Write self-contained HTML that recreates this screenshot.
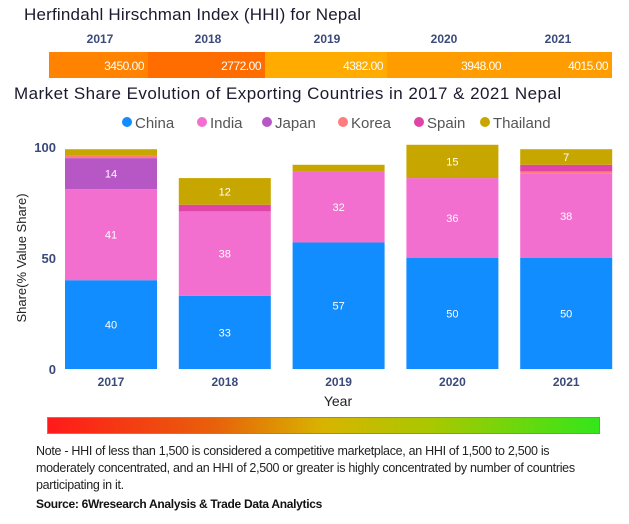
<!DOCTYPE html>
<html><head><meta charset="utf-8"><style>
body{margin:0;width:629px;height:524px;background:#fff;font-family:"Liberation Sans",sans-serif;overflow:hidden;position:relative}
.abs{position:absolute;white-space:nowrap}
</style></head><body>
<div class="abs" style="left:24px;top:5px;font-size:17px;color:#1a1a2e;letter-spacing:0.2px">Herfindahl Hirschman Index (HHI) for Nepal</div>
<svg id="hhi" class="abs" style="left:0;top:0" width="629" height="90"></svg>
<div class="abs" style="left:14px;top:84px;font-size:17px;color:#1a1a2e;letter-spacing:0.45px">Market Share Evolution of Exporting Countries in 2017 &amp; 2021 Nepal</div>
<svg id="chart" class="abs" style="left:0;top:105px" width="629" height="305"></svg>
<div class="abs" style="left:47px;top:417px;width:553px;height:17px;background:linear-gradient(90deg,#ff1a1a 0%,#e8600a 30%,#d8b400 50%,#a8c800 70%,#33e61a 100%);border:1px solid #888;box-sizing:border-box"></div>
<div class="abs" style="left:36px;top:443px;font-size:12.5px;line-height:17px;color:#222;white-space:normal;width:560px;letter-spacing:-0.3px">Note - HHI of less than 1,500 is considered a competitive marketplace, an HHI of 1,500 to 2,500 is moderately concentrated, and an HHI of 2,500 or greater is highly concentrated by number of countries participating in it.</div>
<div class="abs" style="left:36px;top:497px;font-size:12px;font-weight:bold;color:#111;letter-spacing:-0.3px">Source: 6Wresearch Analysis &amp; Trade Data Analytics</div>
<script>
const years=["2017","2018","2019","2020","2021"];
const hhiValues=[3450,2772,4382,3948,4015];
const seriesNames=["China","India","Japan","Korea","Spain","Thailand"];
const china=[40,33,57,50,50];
const india=[41,38,32,36,38];
const japan=[14,0,0,0,0];
const korea=[1,0,0,0,1];
const spain=[0,3,0,0,3];
const thailand=[3,12,3,15,7];
const yTicks=[0,50,100];
const NS="http://www.w3.org/2000/svg";
function mk(p,t,a){const e=document.createElementNS(NS,t);for(const k in a)e.setAttribute(k,a[k]);p.appendChild(e);return e;}
const hhi=document.getElementById('hhi');
const segX=[49,148,265,387,505,612];
const hhiCols=["#ff8200","#ff6d00","#ffab00","#ff9c00","#ff9c00"];
years.forEach((y,i)=>{
 const r=mk(hhi,'rect',{x:segX[i],y:52,width:segX[i+1]-segX[i],height:26,fill:hhiCols[i]});
 
 
 const t=mk(hhi,'text',{x:segX[i+1]-4,y:70,'text-anchor':'end','font-size':12,fill:'#fff','letter-spacing':'-0.5'});t.textContent=hhiValues[i].toFixed(2);
 
 
 const cx=[100,208,327,444,558][i];
 const h=mk(hhi,'text',{x:cx,y:43,'text-anchor':'middle','font-size':12,'font-weight':'bold',fill:'#3a4a7a'});h.textContent=y;
 
 
});
const svg=document.getElementById('chart');
const OY=105, y0=369-OY, y100=147-OY;
const ys=v=>y0-(y0-y100)*v/100;
const bx=i=>65+i*113.8, bw=92;
const colors=["#118dff","#f26fcf","#b757c6","#fd7d7d","#e044a7","#c8a600"];
const series=[china,india,japan,korea,spain,thailand];
const lgX=[122,197,262,338,414,480];
seriesNames.forEach((n,k)=>{
 const g=mk(svg,'g',{});
 
 
 mk(g,'circle',{cx:lgX[k]+5,cy:17,r:5,fill:colors[k]});
 const t=mk(g,'text',{x:lgX[k]+13,y:23,'font-size':15,fill:'#555'});t.textContent=n;
});
yTicks.forEach(v=>{
 const t=mk(svg,'text',{x:56,y:ys(v)+5,'text-anchor':'end','font-size':13,'font-weight':'bold',fill:'#3a4a7a'});t.textContent=v;
 
 
});
const yt=mk(svg,'text',{transform:`translate(26,${(y0+y100)/2}) rotate(-90)`,'text-anchor':'middle','font-size':13,fill:'#222'});yt.textContent='Share(% Value Share)';


years.forEach((y,i)=>{
 let acc=0;
 series.forEach((s,k)=>{
  const v=s[i]; if(!v)return;
  const top=ys(acc+v), bot=ys(acc);
  const r=mk(svg,'rect',{x:bx(i),y:top,width:bw,height:bot-top,fill:colors[k]});
  
  
  if(v>=5){const t=mk(svg,'text',{x:bx(i)+bw/2,y:(top+bot)/2+4,'text-anchor':'middle','font-size':11,fill:'#fff'});t.textContent=v;
   
   }
  acc+=v;
 });
 const t=mk(svg,'text',{x:bx(i)+bw/2,y:y0+17,'text-anchor':'middle','font-size':12,'font-weight':'bold',fill:'#3a4a7a'});t.textContent=y;
 
 
});
const xt=mk(svg,'text',{x:338,y:y0+37,'text-anchor':'middle','font-size':14,fill:'#222'});xt.textContent='Year';


</script>
</body></html>
